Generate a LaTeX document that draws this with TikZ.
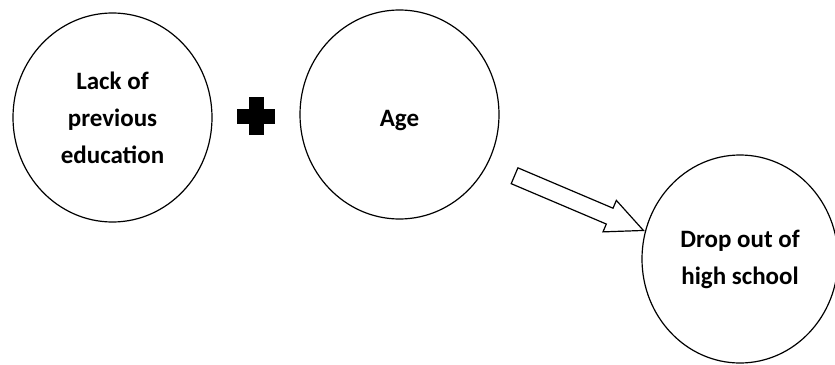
\documentclass[tikz,border=0pt]{standalone}
\usepackage{fontspec}
\setmainfont{Carlito}
\usetikzlibrary{shapes.geometric,shapes.arrows}
\begin{document}
\begin{tikzpicture}[x = 1pt, y = -1pt]
\tikzstyle{bubble}=[ellipse, draw, line width = 1.2pt, minimum width = 199pt, minimum height = 209pt, inner sep = 0pt, align = center, font = \fontsize{25}{37}\selectfont\bfseries, execute at begin node = \rule{0pt}{29pt}]

\useasboundingbox (0,0) rectangle (835,364);

\node[bubble] (lack) at (112.5, 117.5) {Lack of\\previous\\education};
\node[bubble] (age) at (399.5, 114.5) {Age};
\node[bubble, minimum width = 196pt, minimum height = 208pt] (drop) at (740, 259) {Drop out of\\high school};

\coordinate (plus) at (256, 116);
\draw[line width = 15pt] ([xshift = -19pt]plus) -- ([xshift = 19pt]plus);
\draw[line width = 15pt] ([yshift = -19pt]plus) -- ([yshift = 19pt]plus);

\node[single arrow, draw, line width = 1.2pt, rotate = -23, minimum height = 140pt, inner xsep = 0pt, inner ysep = 8pt, single arrow head extend = 8.5pt, single arrow tip angle = 50] (flow) at (570.5, 199.5) {};

\end{tikzpicture}
\end{document}
